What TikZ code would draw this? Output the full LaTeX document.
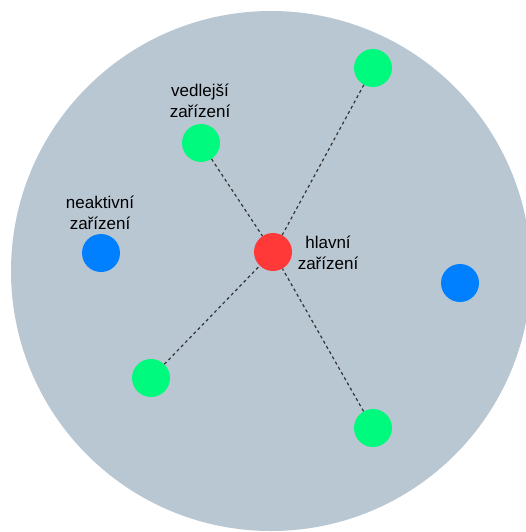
\documentclass[tikz,border=0pt]{standalone}
\usepackage{fontspec}
\setmainfont{Liberation Sans}
\definecolor{bgc}{HTML}{B9C7D3}
\definecolor{gr}{HTML}{00FA7D}
\definecolor{bl}{HTML}{0080FF}
\definecolor{rd}{HTML}{FF3838}
\definecolor{ln}{HTML}{333333}
\tikzset{
  dev/.style={circle,minimum size=38pt,inner sep=0pt},
  lbl/.style={align=center,font=\fontsize{17}{20.5}\selectfont,text=black,inner sep=0pt},
  link/.style={draw=ln,line width=1.2pt,dash pattern=on 3pt off 3pt}
}
\begin{document}
\begin{tikzpicture}[x=1pt,y=-1pt]
\useasboundingbox (0,0) rectangle (526,532);
\clip (0,0) rectangle (526,532);
\fill[bgc] (271,271) circle (260);
\node[dev,fill=rd] (main) at (273,252) {};
\node[dev,fill=gr] (g1) at (373,68) {};
\node[dev,fill=gr] (g2) at (201,143) {};
\node[dev,fill=gr] (g3) at (151,378) {};
\node[dev,fill=gr] (g4) at (373,428) {};
\node[dev,fill=bl] (b1) at (101,253) {};
\node[dev,fill=bl] (b2) at (460,283) {};
\draw[link] (g1) -- (main);
\draw[link] (g2) -- (main);
\draw[link] (g3) -- (main);
\draw[link] (g4) -- (main);
\node[lbl] (t1) at (200,101) {vedlejší\\zařízení};
\node[lbl] (t2) at (100,213) {neaktivní\\zařízení};
\node[lbl] (t3) at (328,253) {hlavní\\zařízení};
\end{tikzpicture}
\end{document}
